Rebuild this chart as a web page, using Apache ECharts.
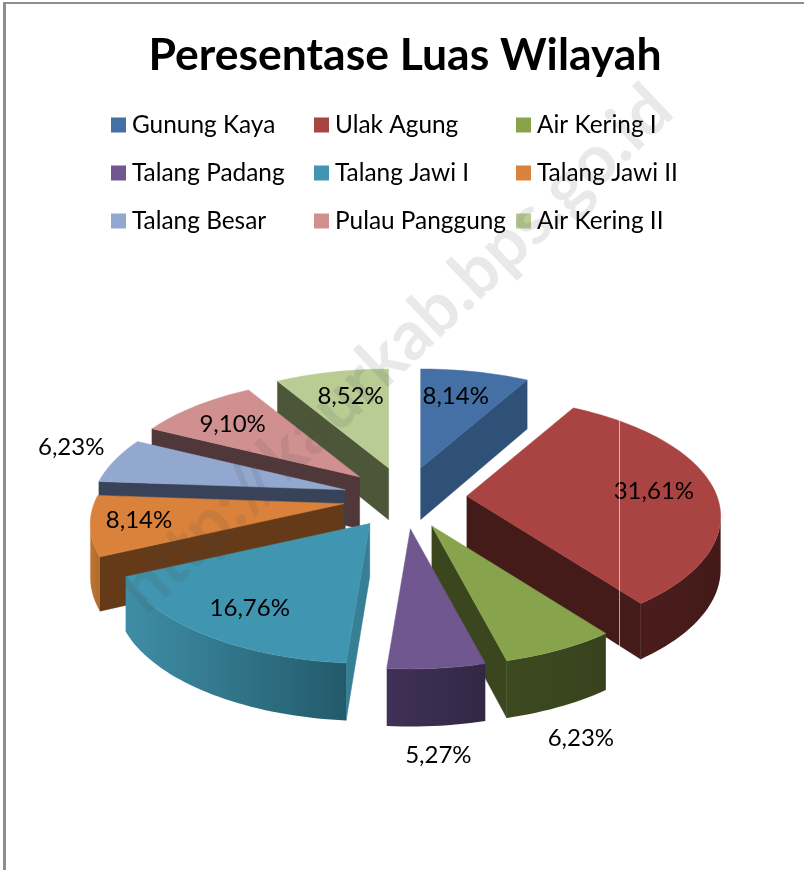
<!DOCTYPE html>
<html><head><meta charset="utf-8">
<style>html,body{margin:0;padding:0;background:#fff}#c{width:804px;height:870px}</style>
<script src="https://cdn.jsdelivr.net/npm/echarts@6/dist/echarts.min.js"></script>
</head><body><div id="c"></div>
<script>
const chartTitle = 'Peresentase Luas Wilayah';
const categories = ['Gunung Kaya','Ulak Agung','Air Kering I','Talang Padang','Talang Jawi I','Talang Jawi II','Talang Besar','Pulau Panggung','Air Kering II'];
const shares = [8.14,31.61,6.23,5.27,16.76,8.14,6.23,9.10,8.52];
const watermark = 'http://kaurkab.bps.go.id';

// styling, separate from the data
const topColors  = ['#4470a5','#a94442','#87a44c','#70578f','#4096b0','#da823b','#92a8cf','#d09090','#b8cc94'];
const faceColors = ['#2f5077','#451b1a','#3b461f','#3f3055','#377f95','#643a18','#38435a','#50373a','#4d5638'];
const rimColors  = [['#2f5077','#2f5077'],['#4a1d1c','#431a19'],['#3d4a20','#38431e'],['#403156','#322745'],['#3f8ea6','#235a6b'],['#bd7633','#b06a2c'],['#38435a','#38435a'],['#50373a','#50373a'],['#4d5638','#4d5638']];
const labelOffsets = [[35,-72],[187,-5],[149,212],[28,226],[-120,85],[-205,17],[-274,-43],[-127,-53],[-38,-72]];

const G = {cx:405, cy:498, ex:62, ey:31, rx:250, ry:116, k:0.1716};
const total = shares.reduce((a,b)=>a+b,0);
const rad = d => d*Math.PI/180;
let acc = 0;
const spans = shares.map(v => { const a0 = acc/total*360; acc += v; return [a0, acc/total*360]; });
const mids = spans.map(s => (s[0]+s[1])/2);

function rimPoint(vertex, deg){
  const u = Math.sin(rad(deg)), v = -Math.cos(rad(deg));
  const s = 1/(1 - G.k*v);
  return [vertex[0] + G.rx*u*s, vertex[1] + G.ry*v*s];
}
const drop = p => [p[0], p[1] + 49 + 0.03*(p[1]-381)];

function renderSlice(i){
  const m = rad(mids[i]);
  const vertex = [G.cx + G.ex*Math.sin(m), G.cy - G.ey*Math.cos(m)];
  const arc = [];
  const steps = Math.max(4, Math.ceil((spans[i][1]-spans[i][0])/1.5));
  for (let j=0;j<=steps;j++) arc.push(rimPoint(vertex, spans[i][0] + (spans[i][1]-spans[i][0])*j/steps));
  const quad = (a,b) => [a,b,drop(b),drop(a)];
  const children = [];
  const solid = (pts,fill,z2) => ({type:'polygon', shape:{points:pts}, z2:z2, style:{fill:fill, stroke:fill, lineWidth:0.5}});
  // flat cut faces: seen only when the clockwise edge runs leftwards
  const first = arc[0], last = arc[arc.length-1];
  if (first[0] < vertex[0]) children.push(solid(quad(vertex,first), faceColors[i], 1));
  if (last[0] > vertex[0]) children.push(solid(quad(last,vertex), faceColors[i], 1));
  // outer rim: contiguous run of arc that faces the viewer
  const run = [];
  for (let j=0;j<arc.length-1;j++){
    if (arc[j+1][0] < arc[j][0]) { if (!run.length) run.push(arc[j]); run.push(arc[j+1]); }
  }
  if (run.length>1){
    const pts = run.concat(run.slice().reverse().map(drop));
    const fill = new echarts.graphic.LinearGradient(0,0,1,0,[{offset:0,color:rimColors[i][0]},{offset:1,color:rimColors[i][1]}]);
    children.push({type:'polygon', shape:{points:pts}, z2:2, style:{fill:fill}});
  }
  // top face
  children.push(solid([vertex].concat(arc), topColors[i], 3));
  children.push({type:'text', z2:5, x:vertex[0]+labelOffsets[i][0], y:vertex[1]+labelOffsets[i][1],
    style:{text:shares[i].toFixed(2).replace('.',',')+'%', font:'24px Lato', fill:'#000', align:'center', verticalAlign:'middle'}});
  return {type:'group', children:children};
}

const depthRank = mids.map((m,i)=>({i:i,d:-Math.cos(rad(m))})).sort((a,b)=>a.d-b.d).map(o=>o.i);

const legendCols = [0,1,2].map(c => categories.filter((_,i)=>i%3===c));
const option = {
  animation:false,
  backgroundColor:'#fff',
  title:{text:chartTitle, left:400, top:28, textAlign:'center', textStyle:{fontFamily:'Lato', fontWeight:'bold', fontSize:44.5, color:'#000'}},
  legend:[111,314,516].map((x,c)=>({
    data:legendCols[c], orient:'vertical', left:x, top:113, padding:0, itemGap:24, itemWidth:15, itemHeight:15, icon:'rect',
    selectedMode:false, textStyle:{fontFamily:'Lato', fontSize:24.4, color:'#000', padding:[0,0,0,1], height:24, lineHeight:24}
  })),
  series:categories.map((name,i)=>({
    type:'custom', name:name, coordinateSystem:'none', silent:true, z:2+depthRank.indexOf(i),
    itemStyle:{color:topColors[i]}, data:[[shares[i]]],
    renderItem:()=>renderSlice(i)
  })),
  graphic:[
    {type:'rect', z:50, silent:true, shape:{x:3,y:2,width:801,height:2}, style:{fill:'#8e8e8e'}},
    {type:'rect', z:50, silent:true, shape:{x:3,y:2,width:3,height:868}, style:{fill:'#8e8e8e'}},
    {type:'line', z:49, silent:true, shape:{x1:619.5,y1:415,x2:619.5,y2:646}, style:{stroke:'rgba(255,255,255,0.6)', lineWidth:1}},
    {type:'text', z:60, silent:true, x:396, y:349, rotation:rad(43.4),
      style:{text:watermark, font:'bold 69px Lato', fill:'rgba(70,70,70,0.12)', align:'center', verticalAlign:'middle'}}
  ]
};
const chart = echarts.init(document.getElementById('c'), null, {renderer:'canvas'});
chart.setOption(option);
</script></body></html>
